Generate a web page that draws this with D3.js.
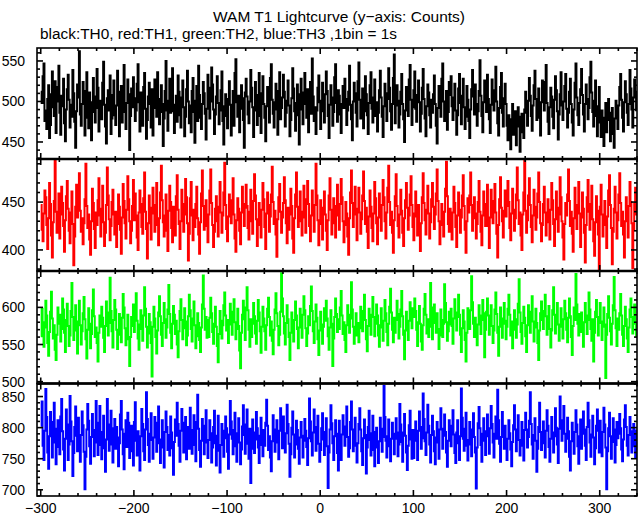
<!DOCTYPE html>
<html>
<head>
<meta charset="utf-8">
<script src="https://cdn.jsdelivr.net/npm/d3@7"></script>
<style>
  html, body { margin: 0; padding: 0; background: #fff; }
  svg { display: block; }
  text { font-family: "Liberation Sans", Arial, Helvetica, sans-serif; fill: #000; }
</style>
</head>
<body>
<svg id="chart" width="643" height="515"></svg>
<script>
// ---------------- DATA ----------------
const title = "WAM T1 Lightcurve (y\u2212axis: Counts)";
const subtitle = "black:TH0, red:TH1, green:TH2, blue:TH3 ,1bin = 1s";
const startTime = -300;   // first bin (s), 1 bin = 1 s
const xTicksMajor = [-300, -200, -100, 0, 100, 200, 300];

const seriesNames = ["TH0", "TH1", "TH2", "TH3"];
const seriesColors = ["#000000", "#ff0000", "#00ff00", "#0000ff"];
const yTicksTH0 = [450, 500, 550];
const yTicksTH1 = [400, 450];
const yTicksTH2 = [500, 550, 600];
const yTicksTH3 = [700, 750, 800, 850];

const countsTH0 = [
512,498,531,547,476,489,466,503,520,455,471,509,537,493,482,525,461,500,518,544,
486,459,507,494,528,473,451,490,515,533,502,468,496,481,539,510,475,443,488,521,
505,562,484,470,497,524,513,458,491,536,480,467,511,499,452,487,529,506,474,492,
540,517,463,485,501,478,523,549,496,469,448,504,514,489,532,460,479,508,526,483,
471,495,538,512,457,490,519,474,502,545,487,466,498,527,509,440,482,516,493,530,
504,476,489,522,546,499,463,511,484,470,518,535,491,454,477,506,523,497,468,515,
458,492,527,508,481,536,503,472,487,520,497,445,479,513,550,489,464,501,528,486,
519,541,488,461,496,507,475,532,512,483,468,505,526,493,457,481,515,538,500,473,
495,462,513,529,487,449,501,519,476,544,508,480,466,497,524,510,485,453,491,533,
517,479,500,542,521,490,460,484,506,531,498,472,489,514,537,476,447,494,509,482,
467,503,525,496,458,488,513,470,535,552,499,481,507,462,491,520,504,477,443,511,
528,506,484,473,500,539,517,493,456,489,524,508,471,496,535,482,461,510,531,497,
480,451,494,518,507,474,529,546,502,485,468,499,522,490,459,513,536,478,492,505,
533,512,469,486,501,526,495,457,477,504,541,516,488,464,498,521,483,447,509,528,
490,472,511,535,497,480,515,462,501,524,485,553,506,476,493,460,489,517,532,499,
466,501,523,488,474,509,537,513,482,455,496,520,505,470,487,530,546,498,475,514,
507,484,461,497,519,492,528,503,471,489,512,544,496,478,452,500,523,510,486,469,
525,548,502,479,493,516,467,488,531,509,483,460,498,520,536,491,474,505,527,482,
499,463,486,514,538,505,481,456,494,522,510,476,503,541,517,488,465,497,529,558,
473,495,520,501,468,484,512,534,497,478,450,489,518,506,482,527,545,502,471,493,
514,537,491,475,508,526,499,463,485,517,540,503,479,457,494,521,511,483,468,502,
486,509,532,497,470,448,492,519,505,481,528,547,500,476,490,513,465,487,524,508,
531,494,477,505,522,489,459,483,516,534,498,472,507,528,493,466,481,519,502,476,
455,490,515,539,506,484,521,497,470,488,513,551,507,482,462,499,526,510,487,533,
503,478,461,496,527,514,489,508,543,500,473,458,492,518,535,486,469,504,522,497,
470,452,483,465,441,478,497,459,474,488,446,469,493,481,438,462,485,471,455,490,
512,486,470,501,529,507,482,464,495,520,538,503,477,491,516,480,458,499,526,511,
489,524,545,498,475,460,493,517,506,481,467,502,531,514,488,453,484,509,536,495,
477,500,519,534,491,468,486,512,528,497,474,458,490,523,547,505,483,471,498,515,
540,508,484,463,497,521,503,478,492,530,549,511,487,469,501,526,482,457,494,518,
474,456,489,467,445,480,498,462,477,503,486,451,470,492,460,443,479,501,484,466,
495,518,534,502,480,463,499,525,509,486,471,497,539,516,490,468,505,527,512,488
];

const countsTH1 = [
447,421,409,438,462,455,426,401,433,470,448,415,392,429,451,494,440,418,436,459,
412,437,466,449,425,398,431,456,472,443,420,407,439,461,427,384,414,445,468,434,
458,480,441,419,433,406,428,453,490,446,423,437,411,395,430,464,449,422,402,439,
426,452,475,436,414,443,467,429,404,418,447,486,457,432,410,425,450,463,437,416,
440,403,427,458,445,421,396,434,469,451,428,412,442,477,453,430,407,420,446,473,
431,459,436,413,400,439,462,448,424,417,454,481,440,422,391,428,457,435,411,444,
465,438,419,447,470,426,405,433,460,488,452,429,414,436,458,420,399,441,467,450,
423,408,445,432,415,456,478,442,427,401,430,463,448,419,437,474,455,428,389,417,
454,471,436,410,442,424,448,466,433,416,396,429,459,483,446,421,438,452,425,408,
437,462,484,449,426,403,419,443,456,430,414,445,471,439,418,436,460,491,447,422,
409,435,458,441,428,452,475,437,412,398,431,454,443,420,406,439,466,448,425,444,
468,446,423,411,440,463,430,417,451,479,457,432,404,426,449,436,413,442,470,453,
424,401,438,460,447,419,435,458,487,450,427,441,416,393,432,455,469,440,418,434,
449,476,452,428,407,444,421,437,464,446,412,397,433,458,481,445,424,438,461,430,
415,440,467,434,418,453,472,448,425,409,436,462,441,419,447,490,457,431,405,427,
452,429,411,444,461,437,420,400,431,457,475,442,416,428,454,439,413,446,468,436,
421,448,474,455,430,408,426,450,438,414,395,433,460,483,449,424,441,466,437,410,
443,465,439,417,432,457,482,451,427,444,419,402,435,462,445,423,409,438,471,454,
428,406,434,459,442,420,447,473,455,430,412,439,465,488,450,426,440,418,397,431,
456,479,446,425,413,437,463,441,418,404,433,452,470,444,421,436,458,477,447,424,
410,438,461,435,415,447,425,399,428,455,480,449,431,416,442,467,438,412,429,453,
470,445,422,437,459,484,451,430,406,426,448,433,414,440,464,492,456,427,419,443,
432,411,439,466,449,424,403,436,460,442,418,434,457,478,446,421,397,430,454,439,
457,481,447,420,433,455,438,412,427,450,472,440,419,405,436,461,448,425,443,468,
425,402,434,463,451,428,445,469,439,417,392,426,453,476,444,430,413,441,462,435,
446,472,450,423,410,438,464,442,420,433,458,486,452,427,439,415,400,437,460,494,
441,418,431,457,475,447,424,408,436,463,445,421,434,459,481,450,428,409,426,448,
466,439,415,429,453,436,411,442,470,452,427,404,432,461,444,419,437,476,455,430,
413,390,427,449,436,458,484,451,425,440,417,398,433,465,446,422,447,471,438,403,
434,460,443,418,387,426,455,473,440,421,448,467,432,409,394,429,456,441,416,380,
445,468,437,414,429,451,426,402,435,462,478,447,423,385,419,443,466,439,412,431,
458,480,449,425,440,416,392,430,455,437,413,446,471,450,428,381,422,448,465,436
];

const countsTH2 = [
561,598,580,547,573,609,589,552,535,567,594,621,585,558,576,543,529,563,600,578,
590,554,571,612,597,566,540,583,605,575,548,562,595,633,587,556,577,603,569,538,
581,609,576,550,568,592,614,584,557,531,570,599,578,545,564,596,624,588,560,573,
552,527,566,589,574,601,586,559,540,575,608,593,562,579,640,595,568,546,583,610,
597,570,544,563,591,578,553,586,618,600,572,549,567,590,557,521,560,587,575,604,
567,594,619,582,558,543,577,596,571,555,589,627,598,574,546,565,591,580,552,507,
574,601,585,560,538,569,593,615,588,563,548,579,606,584,559,573,597,630,591,566,
545,578,602,590,564,582,550,533,568,595,611,583,557,572,599,581,549,562,588,617,
596,571,554,585,608,576,545,561,592,579,556,540,573,604,643,598,570,587,559,583,
560,586,613,592,567,551,578,601,574,548,526,564,595,582,558,576,603,620,589,569,
583,552,577,605,589,563,594,611,580,557,571,598,575,542,518,566,590,609,584,556,
600,627,596,570,547,584,560,578,606,588,565,551,582,610,593,568,539,574,601,585,
568,543,576,598,613,587,562,581,555,537,570,597,619,592,575,549,563,594,646,612,
588,565,550,579,603,584,560,529,566,593,577,554,583,608,589,571,545,573,598,580,
559,590,615,596,572,548,565,588,576,602,628,595,568,552,581,604,586,557,536,569,
594,577,551,574,599,582,609,585,561,543,573,596,578,521,558,587,612,591,567,584,
571,600,622,589,564,580,556,540,576,603,590,566,585,634,597,574,551,570,592,562,
579,553,572,601,586,568,595,617,583,557,541,575,598,581,563,590,614,587,561,578,
604,589,562,547,576,599,573,555,582,610,592,567,549,578,601,625,593,570,553,586,
566,583,609,591,558,574,597,622,588,563,530,569,594,577,556,582,607,586,572,599,
587,612,595,570,548,580,602,578,554,543,576,598,618,590,565,584,560,574,633,600,
557,579,604,589,566,592,571,544,562,597,583,560,578,631,606,580,555,568,594,577,
598,575,551,585,611,593,569,587,617,590,563,540,572,596,581,556,527,566,599,584,
571,596,642,607,578,560,586,568,549,577,603,589,564,583,610,592,533,570,594,612,
589,563,580,603,575,552,569,597,620,591,566,535,574,600,585,559,578,606,582,557,
574,598,617,590,562,581,545,570,596,584,559,577,605,638,593,567,551,579,601,586,
561,540,576,603,589,566,594,615,581,554,573,598,579,552,529,569,592,608,583,571,
595,617,588,563,578,602,571,546,569,596,627,590,565,583,606,577,555,574,599,580,
558,584,609,592,570,553,586,612,588,560,536,575,600,583,645,604,578,562,591,567,
593,572,547,580,606,589,564,583,620,597,571,555,584,527,566,594,610,587,562,579,
606,581,556,574,600,577,505,563,591,615,586,568,550,578,603,641,596,572,548,585,
570,592,618,589,563,548,575,601,584,558,540,573,597,612,587,565,581,604,578,560
];

const countsTH3 = [
803,842,771,748,795,862,817,760,734,786,825,809,752,776,840,798,741,769,812,783,
757,818,846,794,765,731,782,829,805,748,773,851,810,778,722,759,801,834,787,762,
816,779,745,788,826,804,761,701,753,797,838,811,770,742,785,822,796,754,776,843,
790,756,808,835,772,749,793,819,767,729,781,846,805,763,789,827,773,744,799,814,
766,801,784,738,775,821,843,797,757,733,790,812,769,824,808,751,778,803,762,739,
809,841,779,755,794,768,731,786,830,806,762,748,797,857,814,772,745,790,823,780,
750,784,817,799,761,808,834,775,743,781,812,768,736,793,826,801,764,788,755,818,
792,767,724,777,813,787,840,806,771,745,795,830,808,760,782,817,749,773,801,766,
832,796,758,785,820,772,746,809,853,798,764,737,779,814,791,757,803,828,776,751,
780,812,791,744,768,801,827,775,739,787,819,763,728,772,806,795,753,783,818,799,
761,734,789,843,810,782,757,796,824,770,745,791,815,776,741,765,802,836,788,758,
805,829,774,750,798,711,766,813,792,759,781,825,799,768,743,787,816,772,754,796,
771,808,845,803,764,786,752,730,778,820,797,761,784,812,776,749,795,831,804,767,
818,783,760,791,837,806,774,721,757,800,826,789,752,773,811,796,766,742,784,809,
787,752,779,814,795,769,740,783,847,810,778,755,792,829,801,763,788,819,774,745,
764,799,823,781,756,793,815,770,703,760,797,836,807,775,748,786,812,790,759,731,
811,776,748,789,820,802,771,794,834,785,753,767,809,842,797,762,780,816,771,744,
775,806,831,797,762,740,783,813,788,726,768,801,827,780,755,791,819,764,738,793,
800,768,743,778,816,798,761,785,867,817,779,752,786,813,770,746,782,808,790,757,
782,815,792,754,773,838,805,777,745,792,822,787,760,732,771,804,827,781,750,796,
751,787,810,779,748,795,826,801,766,783,855,814,778,756,792,837,803,773,744,788,
819,794,762,741,784,809,776,750,797,831,798,766,787,821,793,760,737,779,812,785,
770,803,828,789,759,743,792,812,775,748,786,863,816,782,763,798,824,771,747,780,
809,773,754,797,823,785,760,702,768,807,833,799,772,745,790,815,779,756,794,821,
786,758,799,835,806,776,752,790,818,782,861,812,774,745,785,825,797,766,803,777,
748,782,812,791,765,738,777,804,836,797,762,789,820,780,755,771,809,784,747,796,
824,797,768,785,811,857,806,773,750,788,815,779,729,766,801,840,793,764,785,810,
775,752,795,828,803,769,745,782,817,792,760,786,831,800,773,743,798,850,812,779,
804,835,790,761,782,816,794,753,731,778,808,787,758,793,828,805,770,742,786,813,
766,790,826,797,771,748,801,840,812,776,753,789,819,784,741,767,803,829,795,760,
811,780,754,793,832,805,768,701,762,799,824,786,750,777,815,797,744,772,809,783,
790,822,799,765,746,781,813,836,801,771,755,788,817,794,760,778,806,770,752,797
];

// ---------------- LAYOUT ----------------
const svg = d3.select("#chart");
const left = 37, right = 637;
const panels = [
  { counts: countsTH0, color: seriesColors[0], top: 48,    bottom: 159,   domain: [429, 566],   ticks: yTicksTH0 },
  { counts: countsTH1, color: seriesColors[1], top: 159,   bottom: 271,   domain: [378, 495],   ticks: yTicksTH1 },
  { counts: countsTH2, color: seriesColors[2], top: 271,   bottom: 383.5, domain: [497.5, 649], ticks: yTicksTH2 },
  { counts: countsTH3, color: seriesColors[3], top: 383.5, bottom: 496,   domain: [690, 871],   ticks: yTicksTH3 }
];

const x = d3.scaleLinear().domain([-304, 340]).range([left, right]);
const xMinor = d3.range(-300, 341, 20).filter(v => !xTicksMajor.includes(v));

svg.append("text")
  .attr("x", 339).attr("y", 22)
  .attr("text-anchor", "middle")
  .attr("textLength", 252).attr("lengthAdjust", "spacingAndGlyphs")
  .style("font-size", "15.5px")
  .text(title);

svg.append("text")
  .attr("x", 40).attr("y", 39)
  .attr("textLength", 357).attr("lengthAdjust", "spacingAndGlyphs")
  .style("font-size", "15.5px")
  .text(subtitle);

const fmt = d3.format("d");

panels.forEach((p, i) => {
  const y = d3.scaleLinear().domain(p.domain).range([p.bottom, p.top]);
  const g = svg.append("g");

  const clipId = "clip" + i;
  svg.append("clipPath").attr("id", clipId)
    .append("rect").attr("x", left).attr("y", p.top)
    .attr("width", right - left).attr("height", p.bottom - p.top);

  // data
  const data = p.counts.map((c, k) => ({ t: startTime + k, c }));
  g.append("path")
    .datum(data)
    .attr("clip-path", "url(#" + clipId + ")")
    .attr("fill", "none")
    .attr("stroke", p.color)
    .attr("stroke-width", 2)
    .attr("stroke-linejoin", "miter")
    .attr("d", d3.line().x(d => x(d.t)).y(d => y(d.c)).curve(d3.curveStepAfter));

  // frame
  g.append("rect")
    .attr("x", left).attr("y", p.top)
    .attr("width", right - left).attr("height", p.bottom - p.top)
    .attr("fill", "none").attr("stroke", "#000").attr("stroke-width", 1.6);

  // x ticks (inward) top & bottom
  const tk = g.append("g").attr("stroke", "#000").attr("stroke-width", 1.6);
  xTicksMajor.forEach(v => {
    tk.append("line").attr("x1", x(v)).attr("x2", x(v)).attr("y1", p.bottom).attr("y2", p.bottom - 6);
    tk.append("line").attr("x1", x(v)).attr("x2", x(v)).attr("y1", p.top).attr("y2", p.top + 6);
  });
  xMinor.forEach(v => {
    tk.append("line").attr("x1", x(v)).attr("x2", x(v)).attr("y1", p.bottom).attr("y2", p.bottom - 3);
    tk.append("line").attr("x1", x(v)).attr("x2", x(v)).attr("y1", p.top).attr("y2", p.top + 3);
  });

  // y ticks (inward) left & right
  const yMinor = d3.range(Math.ceil(p.domain[0] / 10) * 10, p.domain[1], 10).filter(v => !p.ticks.includes(v));
  p.ticks.forEach(v => {
    tk.append("line").attr("x1", left).attr("x2", left + 6).attr("y1", y(v)).attr("y2", y(v));
    tk.append("line").attr("x1", right).attr("x2", right - 6).attr("y1", y(v)).attr("y2", y(v));
  });
  yMinor.forEach(v => {
    tk.append("line").attr("x1", left).attr("x2", left + 3).attr("y1", y(v)).attr("y2", y(v));
    tk.append("line").attr("x1", right).attr("x2", right - 3).attr("y1", y(v)).attr("y2", y(v));
  });

  // y labels
  p.ticks.forEach(v => {
    g.append("text")
      .attr("x", 25).attr("y", y(v) + 5)
      .attr("text-anchor", "end")
      .style("font-size", "14px")
      .text(fmt(v));
  });
});

// panel separators (slightly heavier)
panels.slice(1).forEach(p => {
  svg.append("line")
    .attr("x1", left).attr("x2", right)
    .attr("y1", p.top).attr("y2", p.top)
    .attr("stroke", "#000").attr("stroke-width", 2.5);
});

// x labels
xTicksMajor.forEach(v => {
  svg.append("text")
    .attr("x", x(v)).attr("y", 513)
    .attr("text-anchor", "middle")
    .style("font-size", "14px")
    .text(d3.format("d")(v).replace("-", "\u2212"));
});
</script>
</body>
</html>
